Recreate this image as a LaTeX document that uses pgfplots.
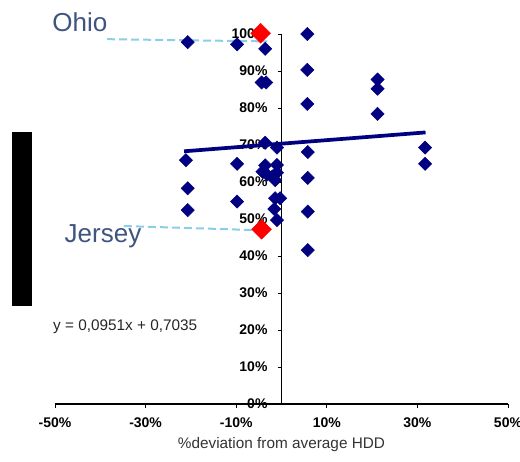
\documentclass[border=0pt]{standalone}
\usepackage{pgfplots}
\pgfplotsset{compat=1.18}
\usepackage{fontspec}
\setmainfont{Liberation Sans}
\definecolor{navy}{RGB}{0,0,128}
\definecolor{slate}{RGB}{64,84,128}
\definecolor{skyline}{RGB}{140,205,232}
\begin{document}
\begin{tikzpicture}
\begin{axis}[
    width=339.75pt, height=277.5pt, scale only axis,
    xmin=-50, xmax=50, ymin=0, ymax=100,
    axis x line=bottom, axis y line=center,
    axis line style={-, black, line width=0.8pt},
    xtick={-50,-30,-10,10,30,50},
    xticklabels={-50\%,-30\%,-10\%,10\%,30\%,50\%},
    ytick={0,10,...,100},
    yticklabels={0\%,10\%,20\%,30\%,40\%,50\%,60\%,70\%,80\%,90\%,100\%},
    hide obscured y ticks=false,
    tick align=outside, major tick length=3pt,
    tick style={black, line width=0.6pt},
    ticklabel style={font=\fontsize{10.5}{12}\selectfont\bfseries},
    yticklabel style={xshift=-4pt},
    xticklabel style={yshift=-4pt},
    xlabel={\%deviation from average HDD},
    xlabel style={font=\fontsize{11.5}{13}\selectfont, text=black!80},
    clip=false,
]
% annotations
\draw[skyline, line width=1.5pt, dash pattern=on 6pt off 3pt] (axis cs:-38.5,98.6) -- (axis cs:-3.2,98.0);
\draw[skyline, line width=1.5pt, dash pattern=on 6pt off 3pt] (axis cs:-34.8,48.1) -- (axis cs:-5.8,47.0);
\node[slate, font=\fontsize{19.5}{22}\selectfont] at (axis cs:-44.5,103.2) {Ohio};
\node[slate, font=\fontsize{19.5}{22}\selectfont] at (axis cs:-39.4,45.4) {Jersey};
\node[black!85, font=\fontsize{11.5}{13}\selectfont] at (axis cs:-34.5,20.8) {y = 0,0951x + 0,7035};
\fill[black] (axis cs:-59.5,26.5) rectangle (axis cs:-55.1,73.5);

% trend line
\addplot[navy, line width=2.8pt] coordinates {(-21.5,68.3) (31.8,73.4)};

% states
\addplot[only marks, mark=square*, mark size=3.5pt,
    mark options={rotate=45, fill=navy, draw=navy}] coordinates {
    (-20.7,97.8) (-9.8,97.2) (-3.6,96.0) (-4.4,86.9) (-3.4,86.9)
    (5.7,100.0) (5.7,90.3) (5.7,81.1)
    (21.2,87.7) (21.2,85.2) (21.2,78.4)
    (31.7,69.3) (31.7,64.9)
    (5.8,68.1) (5.8,61.1) (5.8,52.0) (5.8,41.6)
    (-3.6,70.6) (-1.0,69.3)
    (-21.1,65.9) (-20.7,58.3) (-20.7,52.4)
    (-9.8,64.9) (-9.8,54.7)
    (-3.6,64.5) (-4.2,62.8) (-3.2,62.0)
    (-1.0,64.6) (-1.0,62.5) (-1.4,60.5) (-2.0,61.5)
    (-1.4,55.6) (-0.3,55.6) (-1.6,52.7) (-1.0,49.7)
};

% highlighted
\addplot[only marks, mark=square*, mark size=5.2pt,
    mark options={rotate=45, fill=red, draw=red}] coordinates {
    (-4.6,100.2) (-4.4,47.2)
};

\coordinate (bbl) at (axis cs:-62.14,-15.41);
\coordinate (btr) at (axis cs:52.65,109.19);
\end{axis}
\pgfresetboundingbox
\path[use as bounding box] (bbl) rectangle (btr);
\end{tikzpicture}
\end{document}
